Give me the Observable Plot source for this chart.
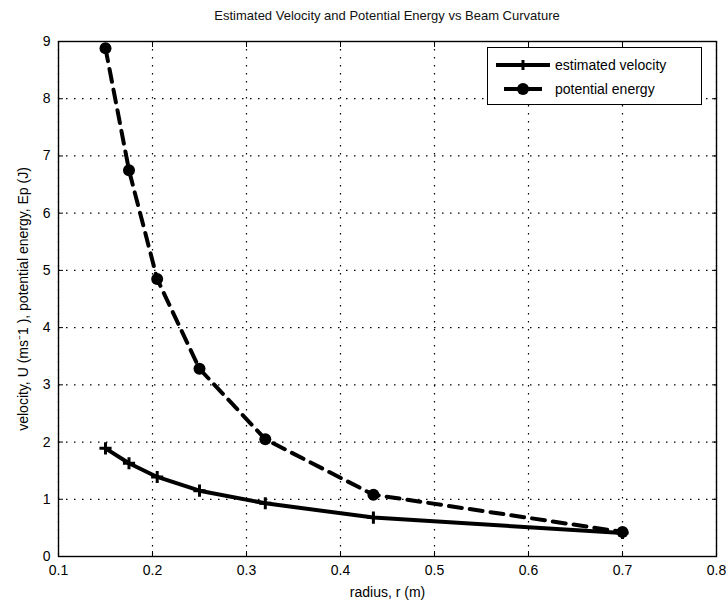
<!DOCTYPE html>
<html>
<head>
<meta charset="utf-8">
<script src="https://cdn.jsdelivr.net/npm/d3@7"></script>
<script src="https://cdn.jsdelivr.net/npm/@observablehq/plot@0.6"></script>
<style>
  html, body { margin: 0; padding: 0; background: white; }
  #wrap { position: relative; width: 728px; height: 609px; font-family: "Liberation Sans", Arial, sans-serif; }
  #title { height: 30px; line-height: 31px; padding-left: 58px; width: 658px; text-align: center; font-size: 13px; color: #111; }
  #legend { position: absolute; left: 487px; top: 47px; width: 213px; height: 56px; border: 1.3px solid black; background: white; font-size: 14px; }
  #legend .row { position: absolute; left: 8px; height: 20px; display: flex; align-items: center; }
  #legend svg { margin-right: 5px; }
</style>
</head>
<body>
<div id="wrap">
  <div id="title">Estimated Velocity and Potential Energy vs Beam Curvature</div>
  <div id="chart"></div>
  <div id="legend">
    <div class="row" style="top:7px">
      <svg width="54" height="14"><line x1="0" y1="7" x2="54" y2="7" stroke="black" stroke-width="4"/><line x1="27" y1="2" x2="27" y2="12" stroke="black" stroke-width="3"/><line x1="22" y1="7" x2="32" y2="7" stroke="black" stroke-width="3"/></svg>
      <span>estimated velocity</span>
    </div>
    <div class="row" style="top:31px">
      <svg width="54" height="14"><line x1="8" y1="7" x2="46" y2="7" stroke="black" stroke-width="4"/><circle cx="27" cy="7" r="6" fill="black"/></svg>
      <span>potential energy</span>
    </div>
  </div>
</div>
<script>
const radius   = [0.15, 0.175, 0.205, 0.25, 0.32, 0.435, 0.70];
const velocity = [1.89, 1.63, 1.39, 1.15, 0.93, 0.68, 0.41];
const energy   = [8.88, 6.75, 4.85, 3.28, 2.05, 1.08, 0.43];
const xTicks = [0.1, 0.2, 0.3, 0.4, 0.5, 0.6, 0.7, 0.8];
const yTicks = [0, 1, 2, 3, 4, 5, 6, 7, 8, 9];
const xLabel = "radius, r (m)";
const yLabel = "velocity, U (ms\u207B1 ), potential energy, Ep (J)";

const vel = radius.map((r, i) => ({r, v: velocity[i]}));
const pe  = radius.map((r, i) => ({r, v: energy[i]}));

const chart = Plot.plot({
  width: 728,
  height: 579,
  marginLeft: 58,
  marginRight: 12,
  marginTop: 11,
  marginBottom: 53,
  style: { fontFamily: "Liberation Sans, Arial, sans-serif", fontSize: "13px", background: "white", color: "black" },
  x: { domain: [0.1, 0.8] },
  y: { domain: [0, 9] },
  marks: [
    Plot.gridX(xTicks, { stroke: "black", strokeOpacity: 1, strokeWidth: 1.2, strokeDasharray: "1.5,6.5" }),
    Plot.gridY(yTicks, { stroke: "black", strokeOpacity: 1, strokeWidth: 1.2, strokeDasharray: "1.5,6.5" }),
    Plot.axisX(xTicks, { anchor: "bottom", tickSize: -5, tickPadding: 14, tickFormat: d => d.toFixed(1), label: xLabel, labelAnchor: "center", labelOffset: 40, labelArrow: "none", fontSize: 14 }),
    Plot.axisX(xTicks, { anchor: "top", tickSize: -5, tickFormat: () => "", label: null }),
    Plot.axisY(yTicks, { anchor: "left", tickSize: -5, tickPadding: 13, tickFormat: d => String(d), label: yLabel, labelAnchor: "center", labelOffset: 40, labelArrow: "none", fontSize: 14 }),
    Plot.axisY(yTicks, { anchor: "right", tickSize: -5, tickFormat: () => "", label: null }),
    Plot.frame({ stroke: "black", strokeWidth: 1.4 }),
    Plot.line(pe, { x: "r", y: "v", stroke: "black", strokeWidth: 4, strokeDasharray: "13,8" }),
    Plot.dot(pe, { x: "r", y: "v", r: 6, fill: "black", stroke: "none" }),
    Plot.line(vel, { x: "r", y: "v", stroke: "black", strokeWidth: 4 }),
    Plot.dot(vel, { x: "r", y: "v", symbol: "plus", r: 4, stroke: "black", strokeWidth: 3 })
  ]
});
document.getElementById("chart").appendChild(chart);
</script>
</body>
</html>
